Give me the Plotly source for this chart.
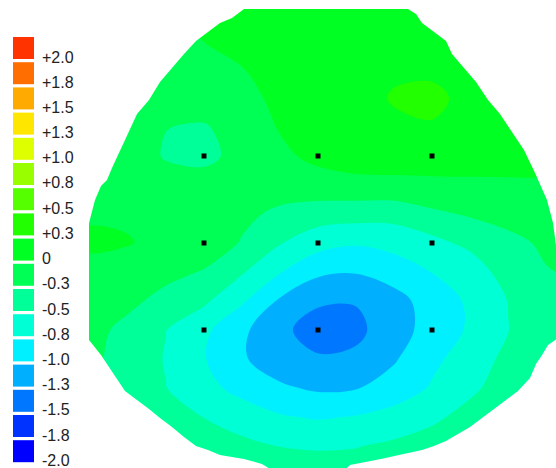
import plotly.graph_objects as go

# ---------------- data ----------------
# grid coordinates (electrode spacing = 3 units, Cz at 0,0)
X_GRID = [-7, -6, -5, -4, -3, -2, -1, 0, 1, 2, 3, 4, 5, 6, 7]
Y_GRID = [9, 8, 7, 6, 5, 4, 3, 2, 1, 0, -1, -2, -3, -4, -5, -6, -7, -8]

# potential values (µV), rows from top (Y=9) to bottom (Y=-8)
Z_ROWS = [
    [-0.20, -0.20, -0.20, -0.15, -0.08, -0.04, -0.02, 0.00, 0.02, 0.03, 0.03, 0.02, 0.00, 0.00, 0.00],
    [-0.20, -0.20, -0.20, -0.15, -0.08, -0.05, -0.02, 0.00, 0.02, 0.03, 0.03, 0.02, 0.00, 0.00, 0.00],
    [-0.25, -0.25, -0.25, -0.20, -0.12, -0.07, -0.03, 0.00, 0.02, 0.04, 0.05, 0.03, 0.02, 0.00, 0.00],
    [-0.25, -0.25, -0.25, -0.22, -0.19, -0.13, -0.05, 0.00, 0.03, 0.08, 0.09, 0.05, 0.03, 0.00, 0.00],
    [-0.25, -0.25, -0.25, -0.25, -0.22, -0.17, -0.09, 0.00, 0.01, 0.15, 0.17, 0.07, 0.03, 0.00, -0.02],
    [-0.20, -0.20, -0.22, -0.37, -0.40, -0.25, -0.11, -0.02, 0.03, 0.07, 0.11, 0.08, 0.02, -0.02, -0.05],
    [-0.20, -0.20, -0.22, -0.40, -0.45, -0.28, -0.17, -0.07, 0.00, 0.00, 0.00, -0.01, -0.03, -0.05, -0.08],
    [-0.20, -0.18, -0.20, -0.25, -0.25, -0.25, -0.28, -0.22, -0.20, -0.19, -0.18, -0.17, -0.16, -0.15, -0.15],
    [-0.20, -0.17, -0.16, -0.22, -0.26, -0.33, -0.415, -0.50, -0.52, -0.53, -0.42, -0.35, -0.28, -0.22, -0.20],
    [-0.15, -0.06, -0.11, -0.20, -0.25, -0.39, -0.61, -0.78, -0.85, -0.80, -0.70, -0.56, -0.45, -0.33, -0.28],
    [-0.20, -0.24, -0.26, -0.31, -0.39, -0.60, -0.86, -1.08, -1.11, -1.00, -0.87, -0.78, -0.50, -0.39, -0.33],
    [-0.22, -0.25, -0.32, -0.45, -0.58, -0.84, -1.16, -1.33, -1.36, -1.23, -1.00, -0.84, -0.62, -0.50, -0.45],
    [-0.20, -0.30, -0.44, -0.62, -0.82, -1.08, -1.30, -1.52, -1.44, -1.22, -1.04, -0.84, -0.63, -0.50, -0.45],
    [-0.20, -0.32, -0.48, -0.64, -0.86, -1.10, -1.25, -1.34, -1.32, -1.15, -0.93, -0.76, -0.56, -0.47, -0.43],
    [-0.30, -0.35, -0.50, -0.62, -0.80, -0.95, -1.09, -1.16, -1.14, -1.02, -0.85, -0.67, -0.52, -0.48, -0.45],
    [-0.30, -0.35, -0.42, -0.50, -0.63, -0.75, -0.85, -0.90, -0.86, -0.78, -0.67, -0.55, -0.50, -0.48, -0.45],
    [-0.30, -0.35, -0.40, -0.45, -0.50, -0.56, -0.63, -0.645, -0.635, -0.58, -0.52, -0.48, -0.46, -0.45, -0.43],
    [-0.35, -0.38, -0.40, -0.42, -0.45, -0.48, -0.50, -0.52, -0.50, -0.48, -0.45, -0.43, -0.42, -0.42, -0.40],
]

# electrode positions (F3 Fz F4 / C3 Cz C4 / P3 Pz P4)
ELEC_X = [-3, 0, 3, -3, 0, 3, -3, 0, 3]
ELEC_Y = [3, 3, 3, 0, 0, 0, -3, -3, -3]

# head outline (same units)
HEAD_X = [-1.947, 2.368, 2.579, 2.737, 3.053, 3.368, 3.526, 3.842, 4.158, 4.474, 4.789,
          5.105, 5.421, 5.711, 6.026, 6.184, 6.316, 6.316, 6.053, 5.895, 5.737, 5.579,
          5.263, 4.947, 4.632, 4.316, 4.0, 3.684, 3.368, 3.053, 2.737, 2.132, 1.658,
          0.842, 0.579, -1.0, -1.474, -1.947, -2.579, -2.895, -3.211, -3.526, -3.842,
          -4.158, -4.447, -4.763, -5.079, -5.395, -5.711, -6.026, -6.026, -5.868, -5.711,
          -5.553, -5.421, -5.263, -5.079, -4.763, -4.447, -4.158, -3.842, -3.526, -3.211,
          -2.895, -2.579, -2.263]
HEAD_Y = [8.069, 8.069, 7.897, 7.586, 7.276, 6.966, 6.517, 6.034, 5.552, 4.931, 4.448,
          3.828, 3.207, 2.414, 1.483, 0.690, -0.586, -3.276, -3.517, -3.862, -4.172, -4.655,
          -5.103, -5.414, -5.724, -6.034, -6.345, -6.586, -6.828, -7.0, -7.138, -7.310, -7.448,
          -7.655, -8.0, -8.0, -7.621, -7.448, -7.310, -7.138, -7.0, -6.690, -6.345,
          -6.034, -5.724, -5.414, -5.103, -4.483, -3.862, -3.345, 0.690, 1.483, 1.966,
          2.172, 2.586, 3.034, 3.552, 4.448, 4.931, 5.552, 6.034, 6.517, 6.966,
          7.276, 7.586, 7.759]

# colour legend (from -2.0 to +2.0)
LEVEL_LABELS = ["-2.0", "-1.8", "-1.5", "-1.3", "-1.0", "-0.8", "-0.5", "-0.3", "0",
                "+0.3", "+0.5", "+0.8", "+1.0", "+1.3", "+1.5", "+1.8", "+2.0"]
LEVEL_COLORS = ["#0000FF", "#0033FF", "#0077FF", "#00B0FF", "#00F0FF", "#00FFD5",
                "#00FF99", "#00FF55", "#00FF22", "#22FF00", "#55FF00", "#99FF00",
                "#DDFF00", "#FFE600", "#FFAA00", "#FF6E00", "#FF3300"]

# ---------------- figure ----------------
W, H = 556, 468
n = len(LEVEL_COLORS)
step = 0.25
start = -2.0 + step / 2
end = 2.0 - step / 2

# discrete colorscale matched to plotly's contour fill mapping
nb = n - 1
cs = []
for k in range(nb):
    cs.append([k / nb, LEVEL_COLORS[k]])
    cs.append([(k + 1) / nb if k < nb - 1 else 0.999, LEVEL_COLORS[k]])
cs.append([0.999, LEVEL_COLORS[-1]])
cs.append([1.0, LEVEL_COLORS[-1]])

fig = go.Figure()
fig.add_trace(go.Contour(
    x=X_GRID, y=Y_GRID[::-1], z=Z_ROWS[::-1],
    autocontour=False,
    contours=dict(start=start, end=end, size=step, coloring="fill", showlines=False),
    line=dict(width=0),
    colorscale=cs, showscale=False, hoverinfo="skip",
))
fig.add_trace(go.Scatter(
    x=ELEC_X, y=ELEC_Y, mode="markers",
    marker=dict(symbol="square", size=5, color="black", line=dict(width=0)),
    hoverinfo="skip", showlegend=False,
))

# white mask outside the head
xr = [-8.368, 6.263]
yr = [-7.759, 8.379]
outer = "M -10,-10 L 8,-10 L 8,10 L -10,10 Z "
head = "M " + " L ".join(f"{x},{y}" for x, y in zip(HEAD_X, HEAD_Y)) + " Z"
shapes = [dict(type="path", path=outer + head, xref="x", yref="y",
               fillcolor="white", fillrule="evenodd", line=dict(width=0), layer="above")]

annotations = []
box_x0, box_x1 = 13, 34
top0, pitch, bh = 37, 25.2, 22
for i in range(n):
    idx = n - 1 - i
    y0 = top0 + pitch * i
    y1 = y0 + bh
    shapes.append(dict(type="rect", xref="paper", yref="paper",
                       x0=box_x0 / W, x1=box_x1 / W,
                       y0=1 - y1 / H, y1=1 - y0 / H,
                       fillcolor=LEVEL_COLORS[idx], line=dict(width=0), layer="above"))
    annotations.append(dict(x=40 / W, y=1 - (y1 - 2) / H, xref="paper", yref="paper",
                            text=LEVEL_LABELS[idx], showarrow=False,
                            xanchor="left", yanchor="middle",
                            font=dict(family="Liberation Sans, Arial", size=16, color="#222222")))

fig.update_layout(
    width=W, height=H,
    margin=dict(l=0, r=0, t=0, b=0),
    paper_bgcolor="white", plot_bgcolor="white",
    xaxis=dict(range=xr, visible=False, fixedrange=True),
    yaxis=dict(range=yr, visible=False, fixedrange=True),
    shapes=shapes, annotations=annotations,
    showlegend=False,
)
fig.write_html("out.html", config={"displayModeBar": False},
               post_script="document.body.style.margin='0px';document.body.style.overflow='hidden';")
